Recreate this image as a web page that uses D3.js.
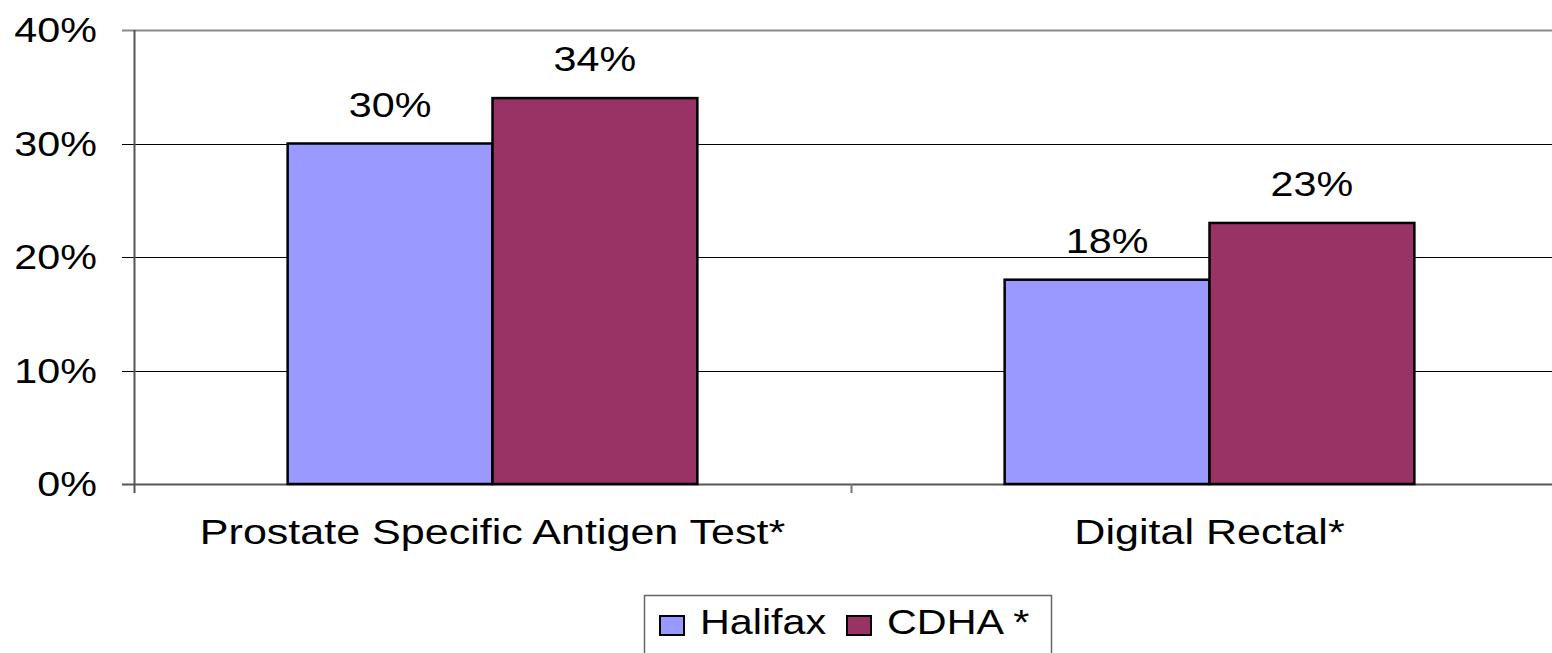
<!DOCTYPE html>
<html>
<head>
<meta charset="utf-8">
<script src="https://cdn.jsdelivr.net/npm/d3@7"></script>
<style>
  body { margin: 0; background: #fff; overflow: hidden; }
  text { font-family: "Liberation Sans", Arial, sans-serif; fill: #000; }
</style>
</head>
<body>
<svg class="chart"></svg>
<script>
// data
var categories = ["Prostate Specific Antigen Test*", "Digital Rectal*"];
var seriesNames = ["Halifax", "CDHA *"];
var halifax = [30, 18];
var cdha = [34, 23];
var yTicks = [0, 10, 20, 30, 40];
var colors = ["#9999ff", "#993366"];

// geometry
var gwidth = 1552, gheight = 653;
var plot = {left: 134, top: 30, right: 1568, bottom: 484};
var fontSize = 35, stretch = 1.18; // source font is a bit wider than tall

var svg = d3.select(".chart")
  .attr("width", gwidth)
  .attr("height", gheight);

var x = d3.scaleBand().domain(categories).range([plot.left, plot.right]);
var y = d3.scaleLinear().domain([0, 40]).range([plot.bottom, plot.top]);

// excel style gap width 150%
var barW = x.bandwidth() / 3.5;
var xs = d3.scaleBand().domain(seriesNames)
  .range([barW * 0.75, x.bandwidth() - barW * 0.75]);

var addText = function(g, tx, ty, str, anchor, sx) {
  return g.append("text")
    .attr("transform", "translate(" + tx + "," + ty + ") scale(" + (sx || stretch) + ",1)")
    .attr("text-anchor", anchor || "middle")
    .style("font-size", fontSize + "px")
    .text(str);
};

// gridlines
svg.selectAll(".grid").data(yTicks).enter().append("line")
  .attr("x1", plot.left - 12).attr("x2", plot.right)
  .attr("y1", function(d) { return Math.round(y(d)) + 0.5; })
  .attr("y2", function(d) { return Math.round(y(d)) + 0.5; })
  .attr("stroke", function(d) { return d == 40 ? "#888" : (d == 0 ? "#555" : "#000"); })
  .attr("stroke-width", function(d) { return d == 40 ? 2 : (d == 0 ? 2 : 1); });

// y labels
yTicks.forEach(function(t) {
  addText(svg, 97, y(t) + 12, t + "%", "end");
});

// left axis
svg.append("line")
  .attr("x1", plot.left + 0.5).attr("x2", plot.left + 0.5)
  .attr("y1", plot.top).attr("y2", plot.bottom + 9)
  .attr("stroke", "#555").attr("stroke-width", 2);

// category ticks
categories.forEach(function(c, i) {
  if (i == 0) return;
  svg.append("line")
    .attr("x1", x(c) + 0.5).attr("x2", x(c) + 0.5)
    .attr("y1", plot.bottom).attr("y2", plot.bottom + 9)
    .attr("stroke", "#777").attr("stroke-width", 2);
});

// bars
var series = [halifax, cdha];
series.forEach(function(vals, si) {
  svg.selectAll(".bar" + si).data(vals).enter().append("rect")
    .attr("x", function(d, i) { return x(categories[i]) + xs(seriesNames[si]); })
    .attr("y", function(d) { return y(d); })
    .attr("width", xs.bandwidth())
    .attr("height", function(d) { return y(0) - y(d); })
    .attr("fill", colors[si])
    .attr("stroke", "#000")
    .attr("stroke-width", 2.5);
  vals.forEach(function(v, i) {
    addText(svg, x(categories[i]) + xs(seriesNames[si]) + xs.bandwidth() / 2, y(v) - 27, v + "%");
  });
});

// category labels
categories.forEach(function(c) {
  addText(svg, x(c) + x.bandwidth() / 2, 544, c, "middle", 1.23);
});

// legend
var leg = svg.append("g");
leg.append("rect")
  .attr("x", 644.5).attr("y", 595.5)
  .attr("width", 407).attr("height", 80)
  .attr("fill", "none").attr("stroke", "#666").attr("stroke-width", 1.5);
var legX = [660, 847];
seriesNames.forEach(function(s, i) {
  leg.append("rect")
    .attr("x", legX[i]).attr("y", 616)
    .attr("width", 24).attr("height", 19)
    .attr("fill", colors[i]).attr("stroke", "#000").attr("stroke-width", 2);
  addText(leg, legX[i] + 40, 634, s, "start");
});
</script>
</body>
</html>
